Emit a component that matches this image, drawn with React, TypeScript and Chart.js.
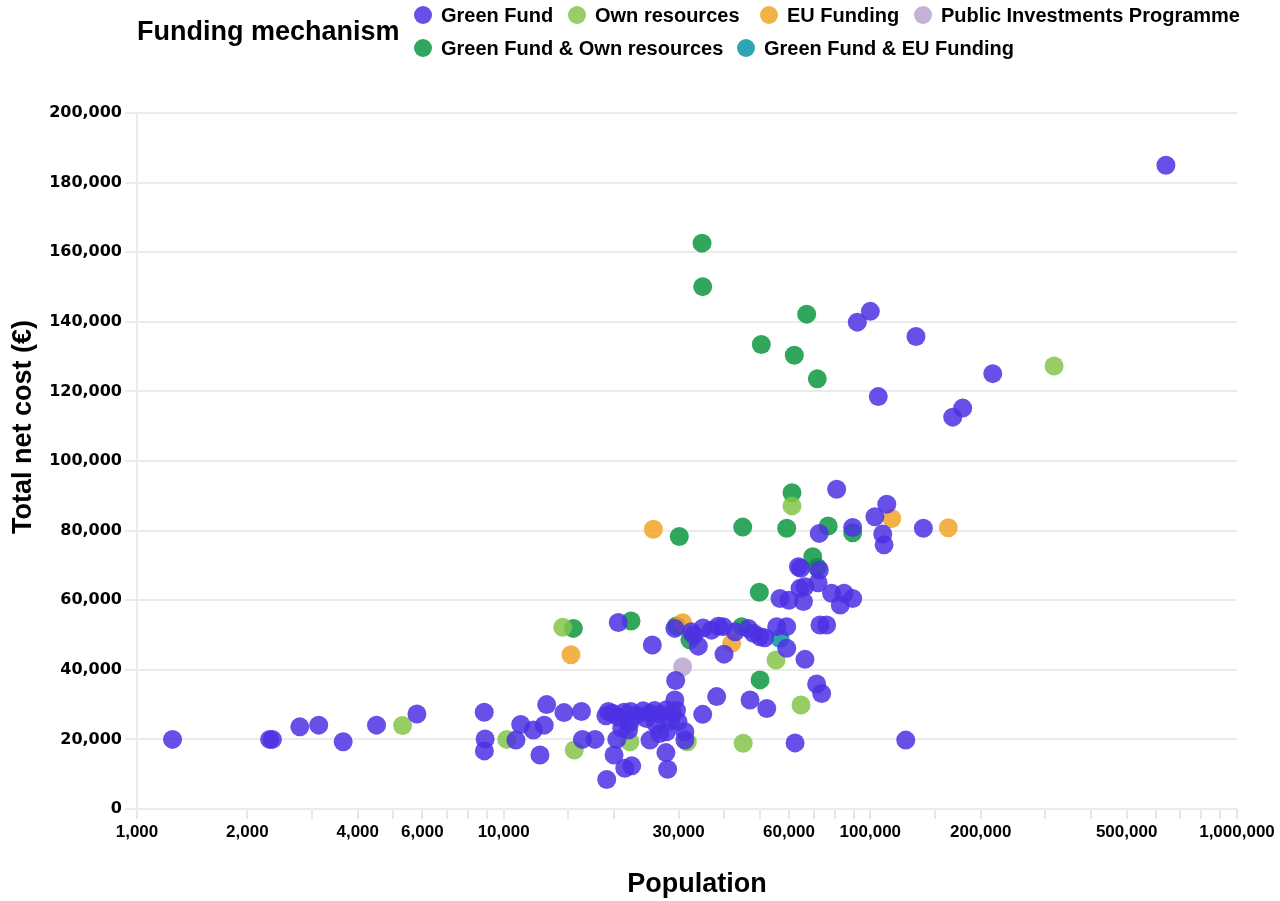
import React, { useEffect, useRef } from "react";
import { Chart, registerables } from "chart.js";

Chart.register(...registerables);

// [population, total net cost €]
const greenFund: [number, number][] = [
  [1250, 20000], [2300, 20000], [2340, 20000], [2780, 23600], [3130, 24100], [3650, 19300], [4500, 24100], [5800, 27300],
  [8850, 27800], [8900, 20100], [8860, 16700], [10800, 19800], [11130, 24300], [12050, 22700], [12900, 24100], [13100, 30000],
  [12560, 15500], [14600, 27700], [16300, 28000], [16400, 20000], [17750, 20000], [19100, 8500], [19300, 28000], [20000, 15500],
  [20350, 20000], [21900, 22700], [21400, 11700], [22350, 12400], [25070, 19800], [26650, 21700], [27800, 22200], [27700, 16200],
  [28000, 11400], [29300, 31300], [29600, 28400], [29900, 25100], [31200, 22200], [31200, 19800], [29450, 36900], [34900, 27200],
  [38100, 32300],
  [19000, 26800], [19800, 27500], [20500, 26500], [21300, 27800], [22200, 28000], [23000, 27000], [24000, 28200], [25000, 27500],
  [25800, 28300], [26800, 27200], [27800, 28500], [28900, 27400], [21000, 23200], [22100, 24800], [24500, 26000], [26000, 24500],
  [28500, 25200],
  [20540, 53600], [25430, 47100], [29300, 51900], [32500, 50900], [33000, 50000], [33960, 46800], [35000, 52000], [36900, 51400],
  [38500, 52500], [39700, 52400], [39900, 44500], [42770, 50900], [46500, 51900], [48000, 50500], [50030, 49500], [51500, 49200],
  [55550, 52400], [59150, 52400], [59150, 46200], [66340, 43000], [46980, 31300], [52180, 28900], [62330, 19000], [71380, 35900],
  [73660, 33200],
  [63660, 69600], [64290, 63400], [66340, 63900], [72000, 65000], [56700, 60500], [60000, 60000], [65700, 59600], [72900, 52900],
  [76000, 52900], [78400, 62000], [82800, 58600], [84800, 62000], [89500, 60500], [64570, 69200], [72600, 68700],
  [72560, 79200], [80940, 91900], [89500, 80900], [102900, 84000], [110900, 87600], [108100, 79000], [109000, 75900], [139500, 80700],
  [124900, 19800],
  [100000, 143000], [92150, 139900], [133200, 135800], [215700, 125100], [105100, 118500], [178600, 115200], [167800, 112600],
  [640000, 185000],
];

const ownResources: [number, number][] = [
  [5300, 24000], [10200, 20000], [15580, 16950], [22100, 19300], [31700, 19300], [45000, 18900], [14490, 52200],
  [55300, 42800], [64700, 29900], [61140, 87100], [317000, 127300],
];

const euFunding: [number, number][] = [
  [15260, 44300], [25600, 80400], [30770, 53500], [41870, 47600], [114400, 83500], [163200, 80800],
];

const publicInvestments: [number, number][] = [[30770, 40900]];

const greenFundOwn: [number, number][] = [
  [15490, 51900], [22250, 54000], [29600, 52600], [32200, 48600], [44590, 52400], [50030, 37100], [49800, 62300],
  [30130, 78300], [44870, 81000], [61140, 90900], [59150, 80700], [76740, 81300], [89500, 79400], [69650, 72500],
  [71640, 69500], [34750, 162600], [34900, 150100], [67050, 142200], [50430, 133500], [62040, 130400], [71680, 123600],
];

const greenFundEU: [number, number][] = [[56700, 49000]];

const seriesNames = [
  "Green Fund",
  "Own resources",
  "EU Funding",
  "Public Investments Programme",
  "Green Fund & Own resources",
  "Green Fund & EU Funding",
];
const seriesColors = [
  "rgba(76,49,228,0.85)",
  "rgba(132,196,73,0.85)",
  "rgba(240,165,40,0.85)",
  "rgba(188,165,207,0.85)",
  "rgba(12,152,65,0.85)",
  "rgba(12,149,165,0.85)",
];
const seriesData = [greenFund, ownResources, euFunding, publicInvestments, greenFundOwn, greenFundEU];

const xTickLabels = [1000, 2000, 4000, 6000, 10000, 30000, 60000, 100000, 200000, 500000, 1000000];

const legendTitle = "Funding mechanism";
const xTitle = "Population";
const yTitle = "Total net cost (€)";

const legendLayout = [
  { left: 423, top: 15 },
  { left: 577, top: 15 },
  { left: 769, top: 15 },
  { left: 923, top: 15 },
  { left: 423, top: 48 },
  { left: 746, top: 48 },
];

const titleFont = "'Liberation Sans', Arial, sans-serif";

export default function App() {
  const ref = useRef<HTMLCanvasElement | null>(null);

  useEffect(() => {
    if (!ref.current) return;
    const chart = new Chart(ref.current, {
      type: "scatter",
      data: {
        datasets: seriesNames.map((name, i) => ({
          label: name,
          data: seriesData[i].map(([x, y]) => ({ x, y })),
          backgroundColor: seriesColors[i],
          borderColor: seriesColors[i],
          borderWidth: 0,
          pointRadius: 9.5,
          pointHoverRadius: 9.5,
        })),
      },
      options: {
        responsive: false,
        animation: false,
        layout: { padding: { top: 113, right: 43, left: 0, bottom: 0 } },
        plugins: { legend: { display: false }, tooltip: { enabled: false } },
        scales: {
          x: {
            type: "logarithmic",
            min: 1000,
            max: 1000000,
            afterFit: (s: any) => {
              s.height = 92;
            },
            grid: { drawOnChartArea: false, color: "#e6e6e6", lineWidth: 2, tickLength: 10 },
            border: { display: false },
            ticks: {
              autoSkip: false,
              maxRotation: 0,
              padding: 3,
              color: "#000",
              font: { family: titleFont, size: 17, weight: "bold" },
              callback: (v: any) => (xTickLabels.includes(Number(v)) ? Number(v).toLocaleString("en-US") : ""),
            },
          },
          y: {
            min: 0,
            max: 200000,
            afterFit: (s: any) => {
              s.width = 137;
            },
            grid: { color: "#ebebeb", lineWidth: 2, tickLength: 12 },
            border: { color: "#ebebeb", width: 2 },
            ticks: {
              stepSize: 20000,
              padding: 3,
              color: "#000",
              font: { family: "'DejaVu Sans', Verdana", size: 16, weight: "bold" },
              callback: (v: any) => Number(v).toLocaleString("en-US"),
            },
          },
        },
      },
    });
    return () => chart.destroy();
  }, []);

  const textBase: React.CSSProperties = {
    position: "absolute",
    fontFamily: titleFont,
    fontWeight: "bold",
    color: "#000",
    whiteSpace: "nowrap",
  };

  return (
    <div style={{ position: "fixed", left: 0, top: 0, width: 1280, height: 901, background: "#fff" }}>
      <canvas ref={ref} width={1280} height={901} style={{ position: "absolute", left: 0, top: 0, width: 1280, height: 901 }} />
      <div style={{ ...textBase, left: 137, top: 15, height: 32, lineHeight: "32px", fontSize: 27 }}>{legendTitle}</div>
      {seriesNames.map((name, i) => (
        <div
          key={name}
          style={{
            ...textBase,
            left: legendLayout[i].left - 9,
            top: legendLayout[i].top - 12,
            height: 24,
            display: "flex",
            alignItems: "center",
            fontSize: 20,
          }}
        >
          <span
            style={{
              display: "inline-block",
              width: 18,
              height: 18,
              borderRadius: "50%",
              background: seriesColors[i],
              marginRight: 9,
            }}
          />
          {name}
        </div>
      ))}
      <div
        style={{
          ...textBase,
          left: 697 - 150,
          top: 883 - 16,
          width: 300,
          height: 32,
          lineHeight: "32px",
          textAlign: "center",
          fontSize: 27,
        }}
      >
        {xTitle}
      </div>
      <div
        style={{
          ...textBase,
          left: 22 - 150,
          top: 427 - 16,
          width: 300,
          height: 32,
          lineHeight: "32px",
          textAlign: "center",
          fontSize: 27,
          transform: "rotate(-90deg)",
        }}
      >
        {yTitle}
      </div>
    </div>
  );
}
